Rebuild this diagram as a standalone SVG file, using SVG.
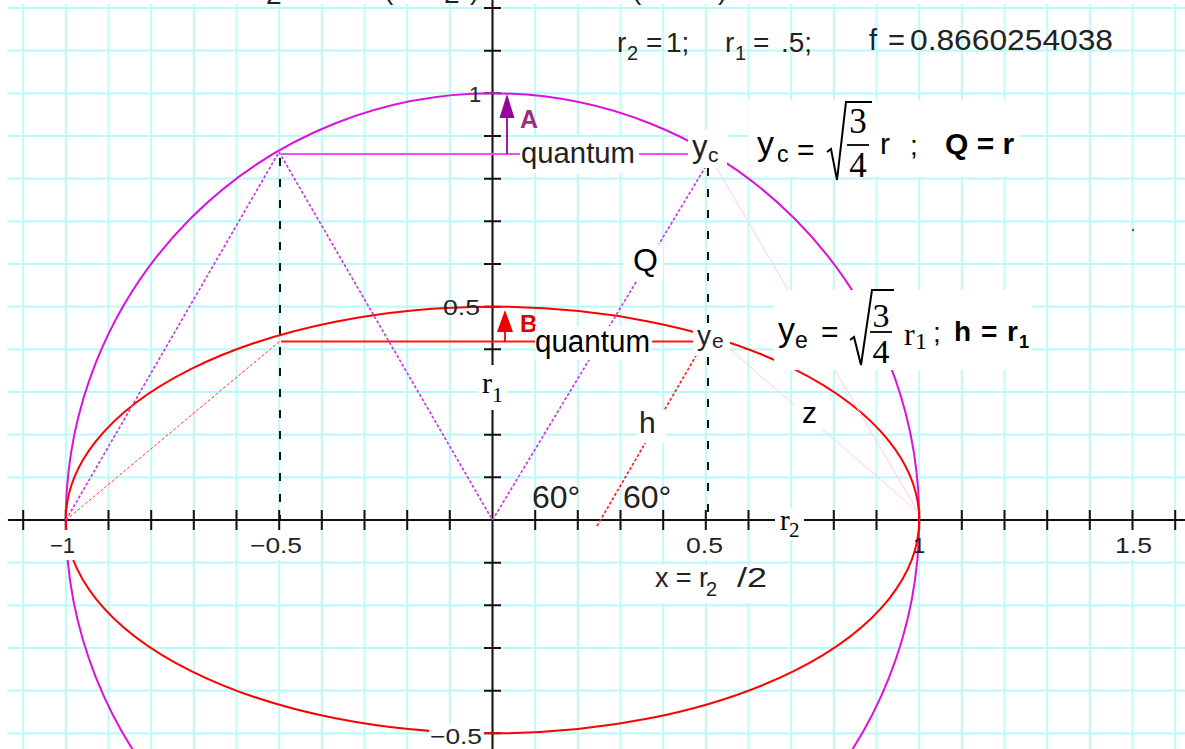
<svg xmlns="http://www.w3.org/2000/svg" width="1185" height="749" viewBox="0 0 1185 749">
<style>
.t{font-family:"Liberation Sans",Arial,sans-serif;fill:#222}
.k{font-family:"Liberation Sans",Arial,sans-serif;fill:#000}
.b{font-family:"Liberation Sans",Arial,sans-serif;font-weight:bold;fill:#000}
.s{font-family:"Liberation Serif","Times New Roman",serif;fill:#000}
.bg{fill:#fff}
.ax{stroke:#111;stroke-width:2;fill:none}
.dash{stroke:#111;stroke-width:2;stroke-dasharray:8 13;fill:none}
.mdot{stroke:#c83cdc;stroke-width:1.7;stroke-dasharray:3 2;fill:none}
.rdot{stroke:#ff2222;stroke-width:1.7;stroke-dasharray:3 2;fill:none}
.faint{stroke:#ffc4e2;stroke-width:0.9;fill:none}
</style>
<defs>
<pattern id="grid" patternUnits="userSpaceOnUse" x="22.2" y="7" width="42.667" height="42.667">
<path d="M1 0V42.667M0 1H42.667" stroke="#b8fafa" stroke-width="1.8" fill="none"/>
</pattern>
</defs>
<rect x="0" y="0" width="1185" height="749" fill="#fff"/>
<rect x="7" y="4" width="1178" height="745" fill="url(#grid)"/>

<g id="axes">
<path class="ax" d="M8 520H1185M492.5 0V749"/>
<path class="ax" d="M23.2 510V530M65.8 510V530M108.5 510V530M151.2 510V530M193.8 510V530M236.5 510V530M279.2 510V530M321.8 510V530M364.5 510V530M407.2 510V530M449.8 510V530M535.2 510V530M577.8 510V530M620.5 510V530M663.2 510V530M705.8 510V530M748.5 510V530M791.2 510V530M833.8 510V530M876.5 510V530M919.2 510V530M961.8 510V530M1004.5 510V530M1047.2 510V530M1089.8 510V530M1132.5 510V530M1175.2 510V530"/>
<path class="ax" d="M484 8H501M484 50.7H501M484 93.3H501M484 136H501M484 178.7H501M484 221.3H501M484 264H501M484 306.7H501M484 349.3H501M484 392H501M484 434.7H501M484 477.3H501M484 562.7H501M484 605.3H501M484 648H501M484 690.7H501M484 733.3H501"/>
</g>

<g id="curves">
<circle cx="492.5" cy="520" r="426.7" fill="none" stroke="#dd11dd" stroke-width="2"/>
<ellipse cx="492.5" cy="520" rx="426.7" ry="213.3" fill="none" stroke="#ff0000" stroke-width="2"/>
</g>

<g id="connectors">
<path d="M281 154H688" stroke="#f050f0" stroke-width="2" fill="none"/>
<path d="M281 341.5H693" stroke="#ff1a1a" stroke-width="2" fill="none"/>
<path class="mdot" d="M66 520L279 152M279 152L492.5 520M492.5 520L706 166"/>
<path class="rdot" d="M597 526L704 342"/>
<path d="M66 520L280 341" stroke="#ff3333" stroke-width="1" stroke-dasharray="3 2" fill="none"/>
<path class="dash" d="M280 158V520M708 168V520"/>
<path class="faint" d="M712 160L918 512M726 346L918 512"/>
<path d="M507 154V116" stroke="#990099" stroke-width="1.8"/>
<polygon points="507,94 499.5,118 514.5,118" fill="#990099"/>
<path d="M505 342V330" stroke="#ee0000" stroke-width="1.8"/>
<polygon points="505,310 497,332 513,332" fill="#ee0000"/>
</g>

<g id="top-fragments">
<text class="t" x="266" y="4" font-size="28">2</text>
<text class="t" x="384" y="-1" font-size="28">(</text>
<text class="t" x="444" y="3" font-size="28">2</text>
<text class="t" x="470" y="-1" font-size="28">)</text>
<text class="t" x="632" y="-1" font-size="28">(</text>
<text class="t" x="718" y="-1" font-size="28">)</text>
</g>

<g id="params">
<text class="t" x="617" y="52" font-size="28">r</text>
<text class="t" x="627" y="60" font-size="20">2</text>
<text class="t" x="646" y="52" font-size="28">=</text>
<text class="t" x="666" y="52" font-size="28">1;</text>
<text class="t" x="725" y="52" font-size="28">r</text>
<text class="t" x="735" y="60" font-size="20">1</text>
<text class="t" x="753" y="52" font-size="28">=</text>
<text class="t" x="781" y="52" font-size="28">.5;</text>
<text class="t" x="869" y="50" font-size="29" textLength="36" lengthAdjust="spacing">f =</text>
<text class="t" x="910" y="50" font-size="29" textLength="203" lengthAdjust="spacingAndGlyphs">0.8660254038</text>
</g>

<g id="axis-labels">
<rect class="bg" x="46" y="530" width="30" height="30"/>
<text class="t" x="50" y="553" font-size="22">−1</text>
<rect class="bg" x="247" y="530" width="58" height="30"/>
<text class="t" x="250" y="553" font-size="22" textLength="52" lengthAdjust="spacingAndGlyphs">−0.5</text>
<rect class="bg" x="683" y="530" width="43" height="30"/>
<text class="t" x="686" y="553" font-size="22" textLength="37" lengthAdjust="spacingAndGlyphs">0.5</text>
<text class="t" x="913" y="553" font-size="22">1</text>
<rect class="bg" x="1112" y="530" width="43" height="30"/>
<text class="t" x="1115" y="553" font-size="22" textLength="37" lengthAdjust="spacingAndGlyphs">1.5</text>
<text class="t" x="469" y="102" font-size="22">1</text>
<text class="t" x="443" y="315" font-size="22" textLength="37" lengthAdjust="spacingAndGlyphs">0.5</text>
<rect class="bg" x="429" y="724" width="55" height="25"/>
<text class="t" x="430" y="744" font-size="22" textLength="52" lengthAdjust="spacingAndGlyphs">−0.5</text>
</g>

<g id="label-A">
<text x="520" y="128" font-size="25" font-family="Liberation Sans,Arial,sans-serif" font-weight="bold" fill="#9c2f7c">A</text>
</g>
<g id="label-B">
<text x="520" y="332" font-size="24" font-family="Liberation Sans,Arial,sans-serif" font-weight="bold" fill="#dd0000">B</text>
</g>

<g id="quantum-c">
<rect class="bg" x="520" y="137" width="119" height="36"/>
<text class="t" x="521" y="163" font-size="30" textLength="114" lengthAdjust="spacingAndGlyphs">quantum</text>
</g>
<g id="node-yc">
<rect class="bg" x="688" y="130" width="39" height="38"/>
<text class="t" x="692" y="157" font-size="31">y</text>
<text class="t" x="708" y="162" font-size="21">c</text>
</g>
<g id="eq-yc">
<rect class="bg" x="748" y="100" width="272" height="77"/>
<text class="k" x="757" y="155" font-size="34">y</text>
<text class="k" x="777" y="162" font-size="23">c</text>
<text class="k" x="797" y="160" font-size="30">=</text>
<path d="M827 152L831 149L837 180L846 102H872" stroke="#000" stroke-width="2" fill="none"/>
<text class="s" x="858" y="133" font-size="35" text-anchor="middle">3</text>
<path d="M847 145H869" stroke="#000" stroke-width="1.8"/>
<text class="s" x="858" y="177" font-size="35" text-anchor="middle">4</text>
<text class="k" x="880" y="154" font-size="30">r</text>
<text class="k" x="910" y="155" font-size="28">;</text>
<text class="b" x="945" y="154" font-size="30">Q = r</text>
</g>

<g id="label-Q">
<rect class="bg" x="624" y="244" width="39" height="37"/>
<text class="k" x="633" y="271" font-size="32">Q</text>
</g>

<g id="quantum-e">
<rect class="bg" x="535" y="326" width="117" height="34"/>
<text class="k" x="535" y="352" font-size="31" textLength="115" lengthAdjust="spacingAndGlyphs">quantum</text>
</g>
<g id="node-ye">
<rect class="bg" x="693" y="324" width="37" height="32"/>
<text class="t" x="697" y="345" font-size="28">y</text>
<text class="t" x="712" y="348" font-size="21">e</text>
</g>
<g id="eq-ye">
<rect class="bg" x="774" y="290" width="258" height="80"/>
<text class="k" x="778" y="341" font-size="34">y</text>
<text class="k" x="795" y="348" font-size="23">e</text>
<text class="k" x="821" y="342" font-size="30">=</text>
<path d="M850 340L854 337L861 365L872 290H894" stroke="#000" stroke-width="2" fill="none"/>
<text class="s" x="881" y="327" font-size="34" text-anchor="middle">3</text>
<path d="M870 332H892" stroke="#000" stroke-width="1.8"/>
<text class="s" x="881" y="363" font-size="34" text-anchor="middle">4</text>
<text class="s" x="904" y="345" font-size="32">r</text>
<text class="s" x="915" y="349" font-size="24">1</text>
<text class="k" x="933" y="342" font-size="28">;</text>
<text class="b" x="954" y="341" font-size="28" textLength="64" lengthAdjust="spacing">h = r</text>
<text class="b" x="1019" y="348" font-size="18">1</text>
</g>

<g id="label-r1">
<rect class="bg" x="478" y="365" width="28" height="45"/>
<text class="s" x="482" y="393" font-size="30">r</text>
<text class="s" x="492" y="402" font-size="22">1</text>
</g>

<g id="label-h">
<rect class="bg" x="637" y="410" width="29" height="33"/>
<text class="t" x="639" y="433" font-size="30">h</text>
</g>
<g id="label-z">
<rect class="bg" x="795" y="400" width="27" height="30"/>
<text class="k" x="802" y="423" font-size="30">z</text>
</g>

<g id="angle-1"><text class="t" x="532" y="508" font-size="32">60°</text></g>
<g id="angle-2"><text class="t" x="623" y="508" font-size="32">60°</text></g>

<g id="label-r2">
<rect class="bg" x="775" y="508" width="29" height="32"/>
<text class="s" x="780" y="530" font-size="29">r</text>
<text class="s" x="789" y="537" font-size="21">2</text>
</g>

<g id="label-x">
<rect class="bg" x="650" y="565" width="122" height="38"/>
<text class="t" x="655" y="587" font-size="27" textLength="53" lengthAdjust="spacing">x = r</text>
<text class="t" x="706" y="596" font-size="20">2</text>
<text class="t" x="737" y="587" font-size="27" textLength="30" lengthAdjust="spacingAndGlyphs">/2</text>
</g>

<circle cx="1133" cy="230" r="1.2" fill="#555"/>
</svg>
